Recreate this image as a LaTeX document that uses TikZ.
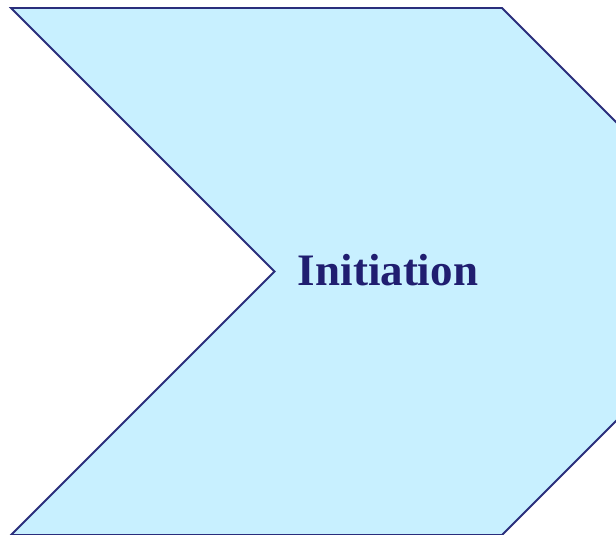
\documentclass[tikz,border=0pt]{standalone}
\usepackage{fontspec}
\setmainfont{Liberation Serif}
\usepackage{tikz}
\usetikzlibrary{positioning, calc}
\usepackage{xcolor}
\definecolor{chevfill}{RGB}{200,240,255}
\definecolor{chevline}{RGB}{42,46,124}
\definecolor{navytext}{RGB}{32,30,112}

\begin{document}
\begin{tikzpicture}[x=1pt, y=-1pt]
  \useasboundingbox (0,0) rectangle (616,535);
  \clip (0,0) rectangle (616,535);
  % chevron body, tip runs off the right edge
  \filldraw[fill=chevfill, draw=chevline, line width=1.8pt, line join=miter]
    (11,8) -- (502,8) -- (765.5,271.5) -- (502,535) -- (11,535) -- (274.5,271.5) -- cycle;
  \node[navytext, font=\fontsize{45}{50}\selectfont\bfseries] (init) at (388,270) {Initiation};
\end{tikzpicture}
\end{document}
